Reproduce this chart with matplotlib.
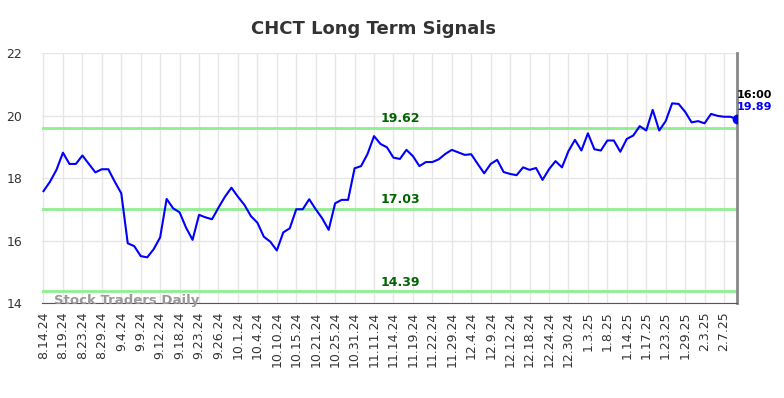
import numpy as np
import matplotlib
matplotlib.use("Agg")
import matplotlib.pyplot as plt

# closing prices, one per sample (108 samples)
prices = [
    17.59, 17.89, 18.27, 18.82, 18.46, 18.46, 18.73, 18.46, 18.19, 18.29,
    18.29, 17.89, 17.52, 15.92, 15.83, 15.51, 15.47, 15.73, 16.11, 17.34,
    17.04, 16.91, 16.42, 16.03, 16.83, 16.75, 16.69, 17.06, 17.41, 17.70,
    17.41, 17.15, 16.79, 16.58, 16.13, 15.97, 15.69, 16.27, 16.40, 17.01,
    17.01, 17.33, 17.01, 16.72, 16.35, 17.20, 17.31, 17.31, 18.32, 18.39,
    18.78, 19.35, 19.10, 18.99, 18.66, 18.62, 18.91, 18.71, 18.39, 18.52,
    18.52, 18.61, 18.78, 18.91, 18.83, 18.75, 18.77, 18.46, 18.16, 18.46,
    18.59, 18.20, 18.14, 18.10, 18.35, 18.27, 18.33, 17.95, 18.29, 18.55,
    18.35, 18.87, 19.23, 18.89, 19.44, 18.93, 18.89, 19.21, 19.21, 18.85,
    19.26, 19.37, 19.67, 19.53, 20.19, 19.53, 19.83, 20.40, 20.38, 20.13,
    19.79, 19.83, 19.76, 20.06, 20.00, 19.97, 19.97, 19.89,
]

tick_labels = [
    "8.14.24", "8.19.24", "8.23.24", "8.29.24", "9.4.24", "9.9.24",
    "9.12.24", "9.18.24", "9.23.24", "9.26.24", "10.1.24", "10.4.24",
    "10.10.24", "10.15.24", "10.21.24", "10.25.24", "10.31.24", "11.11.24",
    "11.14.24", "11.19.24", "11.22.24", "11.29.24", "12.4.24", "12.9.24",
    "12.12.24", "12.18.24", "12.24.24", "12.30.24", "1.3.25", "1.8.25",
    "1.14.25", "1.17.25", "1.23.25", "1.29.25", "2.3.25", "2.7.25",
]
tick_step = 3

levels = [19.62, 17.03, 14.39]
last_time = "16:00"

x = np.arange(len(prices))

fig = plt.figure(figsize=(7.84, 3.98), dpi=100)
ax = fig.add_axes([0.053, 0.238, 0.887, 0.628])

ax.plot(x, prices, color="blue", lw=1.5, zorder=3)
ax.plot(x[-1], prices[-1], "o", color="blue", ms=6, zorder=4)

for lv in levels:
    ax.axhline(lv, color="#90ee90", lw=2, zorder=2)
    ax.text(55, lv + 0.08, f"{lv:.2f}", color="#006400", fontsize=9,
            fontweight="bold", ha="center", va="bottom", zorder=5)

ax.set_xlim(-0.3, len(prices) - 1)
ax.set_ylim(14, 22)
ax.set_yticks([14, 16, 18, 20, 22])
ax.set_xticks(x[::tick_step])
ax.set_xticklabels(tick_labels, rotation=90, fontsize=9)
ax.tick_params(axis="both", length=0, colors="#333333", labelsize=9)
ax.tick_params(axis="x", pad=6)
ax.tick_params(axis="y", pad=14)

ax.grid(True, color="#e6e6e6", lw=1)
ax.set_axisbelow(True)

for s in ["top", "left"]:
    ax.spines[s].set_visible(False)
ax.spines["bottom"].set_color("#555555")
ax.spines["right"].set_color("#888888")
ax.spines["right"].set_linewidth(2)

ax.set_title("CHCT Long Term Signals", fontsize=13, fontweight="bold",
             color="#333333", pad=14, x=0.478)

ax.text(0.018, 0.01, "Stock Traders Daily", transform=ax.transAxes,
        fontsize=9.5, fontweight="bold", color="#999999", va="center",
        ha="left", zorder=6)

ax.annotate(last_time, (x[-1], prices[-1]), xytext=(0, 14),
            textcoords="offset points", fontsize=8, fontweight="bold",
            color="black", ha="left", va="bottom", annotation_clip=False)
ax.annotate(f"{prices[-1]:.2f}", (x[-1], prices[-1]), xytext=(0, 5),
            textcoords="offset points", fontsize=8, fontweight="bold",
            color="blue", ha="left", va="bottom", annotation_clip=False)

fig.savefig("out.png", dpi=100)
